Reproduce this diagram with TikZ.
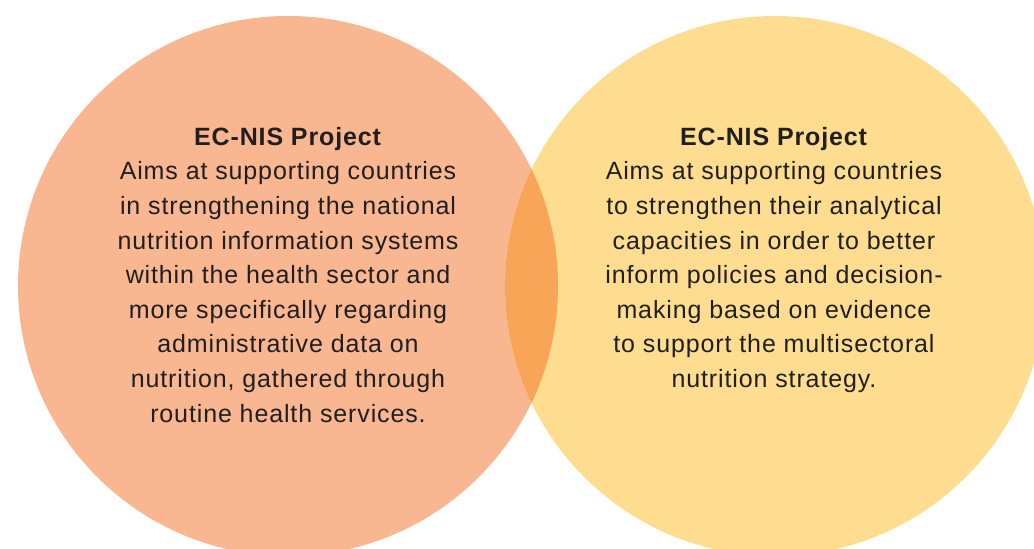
\documentclass[tikz,border=0pt]{standalone}
\usepackage{fontspec}
\setmainfont{Liberation Sans}[LetterSpace=3.5]
\definecolor{salmon}{RGB}{248,182,145}
\definecolor{sand}{RGB}{255,221,144}
\definecolor{overlap}{RGB}{249,165,88}
\tikzset{aimtext/.style={anchor=north,align=center,inner sep=0pt,text=black!88,
  font=\fontsize{25}{34.6}\selectfont}}

\begin{document}
\begin{tikzpicture}[x=1pt,y=-1pt]
                \useasboundingbox (0,0) rectangle (1034,549);
                \begin{scope}
                \clip (0,0) rectangle (1034,549);
                \fill[salmon] (288,286) circle (270pt);
                \fill[sand] (775,286) circle (270pt);
                \clip (288,286) circle (270pt);
                \fill[overlap] (775,286) circle (270pt);
                \end{scope}
                \node[aimtext] (leftaim) at (288,127) {\textbf{EC-NIS Project}\\Aims at supporting countries\\in strengthening the national\\nutrition information systems\\within the health sector and\\more specifically regarding\\administrative data on\\nutrition, gathered through\\routine health services.};
                \node[aimtext] (rightaim) at (774,127) {\textbf{EC-NIS Project}\\Aims at supporting countries\\to strengthen their analytical\\capacities in order to better\\inform policies and decision-\\making based on evidence\\to support the multisectoral\\nutrition strategy.};
            \end{tikzpicture}
\end{document}
